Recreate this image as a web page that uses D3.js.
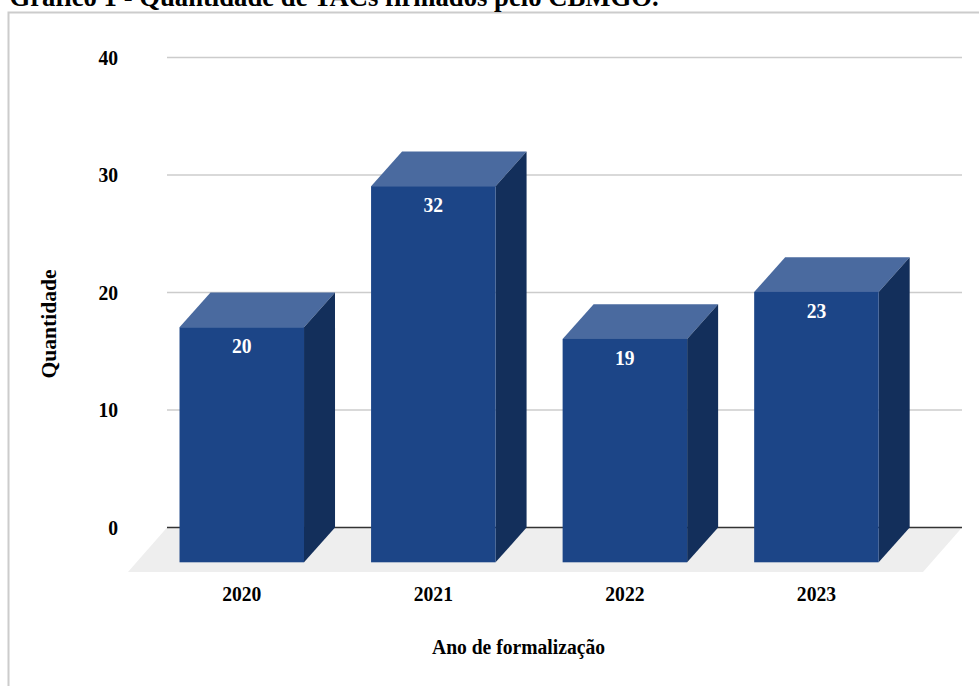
<!DOCTYPE html>
<html><head><meta charset="utf-8">
<script src="https://cdn.jsdelivr.net/npm/d3@7"></script>
<style>
html,body{margin:0;padding:0;background:#fff;overflow:hidden}
svg{display:block}
text{font-family:"Liberation Serif",serif;font-weight:bold;fill:#000}
</style></head><body>
<svg id="c" width="979" height="686"></svg>
<script>
const titleText = "Gráfico 1 - Quantidade de TACs firmados pelo CBMGO.";
const yTitle = "Quantidade";
const xTitle = "Ano de formalização";
const categories = ["2020","2021","2022","2023"];
const values = [20,32,19,23];
const yTicks = [0,10,20,30,40];

const svg = d3.select("#c");
const W = 979, H = 686;
const depthX = 31, depthY = 34.7;        // bar extrusion
const floorDX = 39, floorDY = 44.3;      // floor extrusion
const gridL = 167, gridR = 962;
const digitW = 9.8;                      // squeezed digit advance

const x = d3.scaleBand().domain(categories).range([146,912.2]).paddingInner(0.35).paddingOuter(0.175);
const y = d3.scaleLinear().domain([0,40]).range([527.6,57.4]);

function squeeze(sel){
  sel.attr("font-size",21).attr("font-family","Liberation Serif").attr("font-weight","bold")
     .attr("lengthAdjust","spacingAndGlyphs")
     .attr("textLength",function(){return this.textContent.length*digitW;});
}

// frame
svg.append("path").attr("d",`M8.5,${H}V12.5H${W}`).attr("fill","none").attr("stroke","#cccccc").attr("stroke-width",2);

// title: cut by the page's top edge in the reference too
svg.append("text").attr("x",9.5).attr("y",6).attr("font-size",26.7).text(titleText);

// y axis
const yAxis = d3.axisLeft(y).tickValues(yTicks).tickSize(0).tickPadding(0).tickFormat(d3.format("d"));
const gy = svg.append("g").attr("transform",`translate(118,0)`).call(yAxis);
gy.select(".domain").remove();
gy.selectAll("text").attr("x",0).attr("dy","0.33em").call(squeeze);

// gridlines
const grid = svg.append("g");
grid.selectAll("line").data(yTicks.filter(d=>d>0)).join("line")
  .attr("x1",gridL).attr("x2",gridR).attr("y1",d=>y(d)).attr("y2",d=>y(d))
  .attr("stroke","#cccccc").attr("stroke-width",1.5);

// floor
svg.append("path")
  .attr("d",`M${gridL},${y(0)}H${gridR}L${gridR-floorDX},${y(0)+floorDY}H${gridL-floorDX}Z`)
  .attr("fill","#eeeeee");
svg.append("line").attr("x1",gridL).attr("x2",gridR).attr("y1",y(0)).attr("y2",y(0))
  .attr("stroke","#333333").attr("stroke-width",1.5);

// bars
const bars = svg.append("g").selectAll("g").data(categories.map((c,i)=>({c,v:values[i]}))).join("g");
const fx = d=>x(d.c), bw = x.bandwidth();
const fy = d=>y(d.v)+depthY, by = y(0)+depthY;
bars.append("path").attr("fill","#4a6a9f")
  .attr("d",d=>`M${fx(d)},${fy(d)}l${depthX},${-depthY}h${bw}l${-depthX},${depthY}Z`);
bars.append("path").attr("fill","#132f5b")
  .attr("d",d=>`M${fx(d)+bw},${fy(d)}l${depthX},${-depthY}V${y(0)}l${-depthX},${depthY}Z`);
bars.append("rect").attr("fill","#1c4587")
  .attr("x",fx).attr("y",fy).attr("width",bw).attr("height",d=>by-fy(d));
bars.append("text").attr("x",d=>fx(d)+bw/2).attr("y",d=>fy(d)+26).attr("text-anchor","middle")
  .style("fill","#fff").text(d=>d.v).call(squeeze);

// x axis labels
const xAxis = d3.axisBottom(x).tickSize(0).tickPadding(0);
const gx = svg.append("g").attr("transform","translate(0,601)").call(xAxis);
gx.select(".domain").remove();
gx.selectAll("text").attr("y",0).attr("dy",0).call(squeeze);

// axis titles
svg.append("text").attr("x",518.5).attr("y",654).attr("text-anchor","middle").attr("font-size",20)
  .attr("lengthAdjust","spacingAndGlyphs").attr("textLength",173).text(xTitle);
svg.append("text").attr("transform","translate(55.5,324) rotate(-90)").attr("text-anchor","middle").attr("font-size",20)
  .attr("lengthAdjust","spacingAndGlyphs").attr("textLength",109).text(yTitle);
</script>
</body></html>
